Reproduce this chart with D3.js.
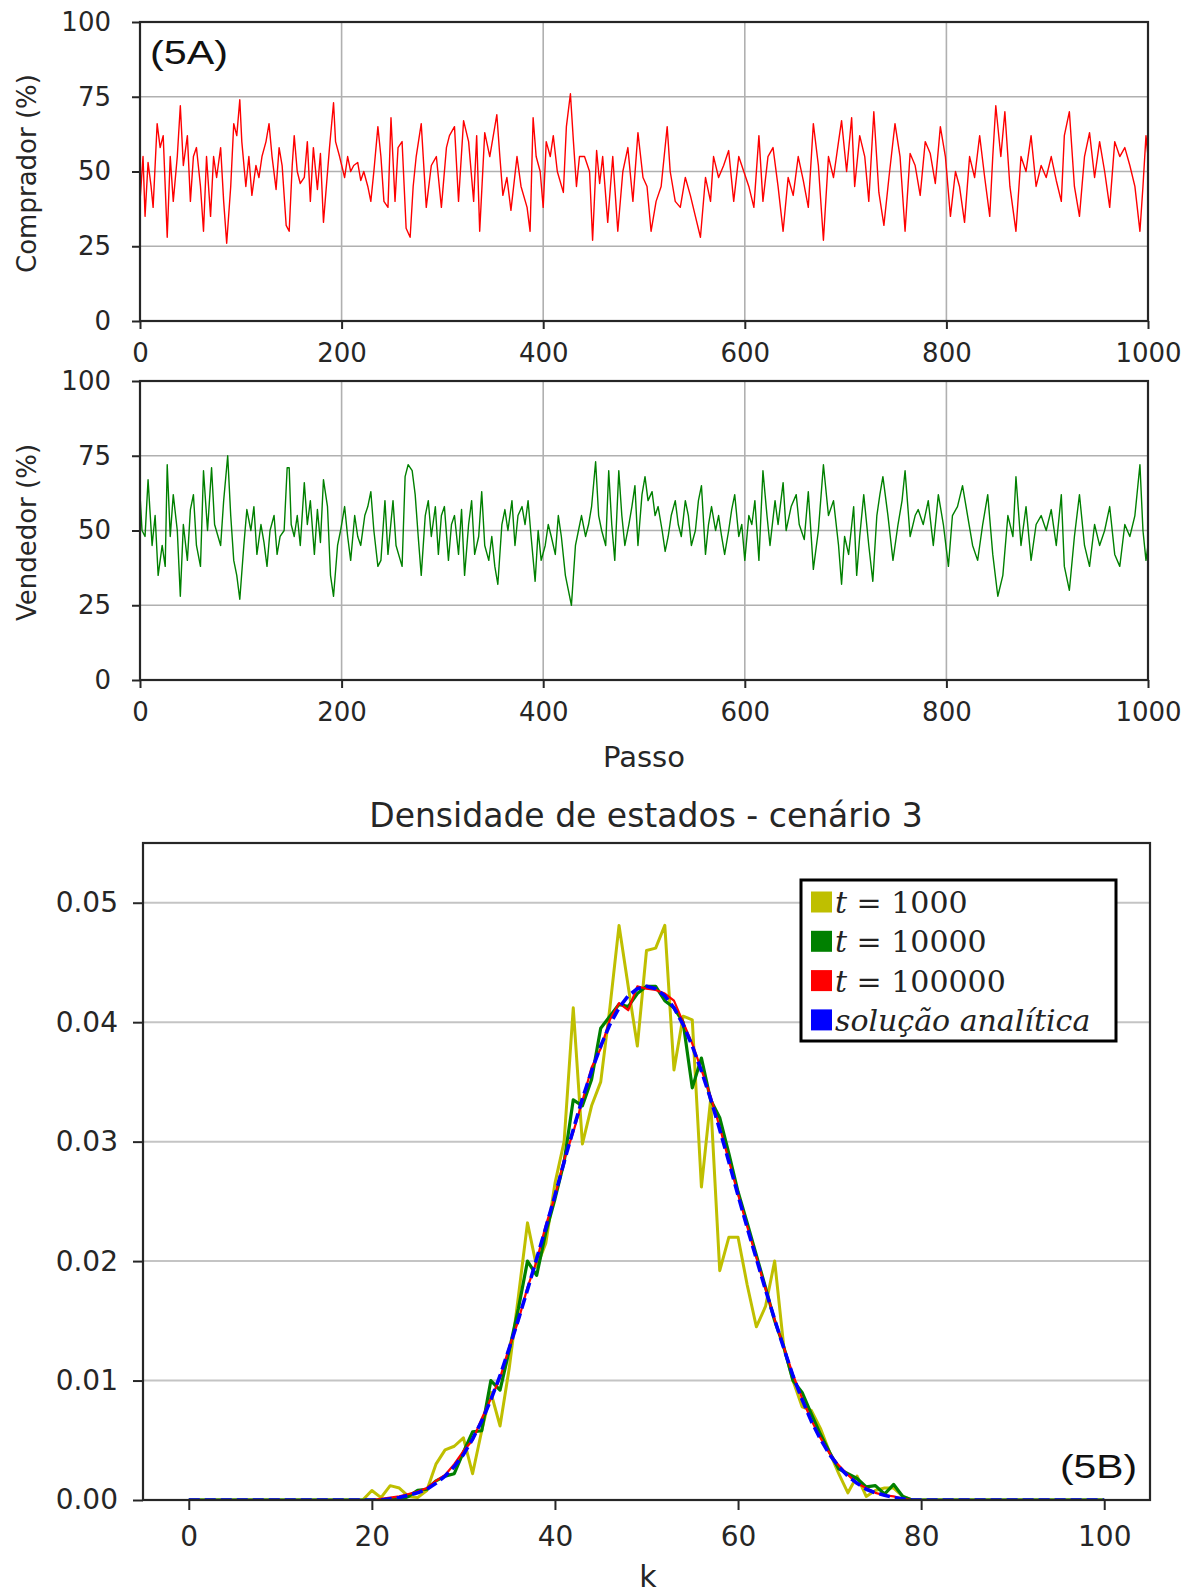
<!DOCTYPE html>
<html>
<head>
<meta charset="utf-8">
<script src="https://cdn.jsdelivr.net/npm/d3@7"></script>
<style>
  body { margin: 0; background: #fff; }
  svg { display: block; }
</style>
</head>
<body>
<svg id="chart" width="1194" height="1593"></svg>
<script>
// ---- data ----

// (5A) comprador, red
const compradorSteps = [0,3,5,8,11,13,17,20,23,27,30,33,37,40,43,47,50,53,56,60,63,66,70,73,76,80,83,86,90,93,96,99,101,105,108,111,115,118,121,125,128,131,135,138,141,145,148,151,153,156,159,163,166,169,172,176,179,182,188,192,194,198,203,206,209,212,216,219,222,226,229,232,236,239,242,246,249,253,256,260,264,268,271,274,279,284,289,294,299,304,307,312,316,321,326,331,334,337,342,347,354,357,360,364,368,374,378,384,387,390,393,397,400,403,407,410,414,420,423,427,430,433,436,441,446,449,453,456,459,464,469,474,479,484,489,494,499,503,507,512,517,523,526,531,536,541,546,551,556,561,566,569,574,579,584,589,594,599,604,609,614,618,623,628,633,638,643,648,653,658,663,668,673,678,683,688,693,696,701,706,709,714,719,723,728,733,738,743,749,754,759,764,769,774,779,784,789,794,799,804,809,813,818,823,828,833,838,843,846,849,854,858,863,869,874,879,884,889,894,899,904,909,914,917,922,927,932,937,942,947,952,957,962,967,972,977,982,987,992,995,998,1000];
const compradorPct = [40,55,35,53,45,38,66,58,62,28,55,40,55,72,52,62,40,55,58,45,30,55,35,55,48,58,40,26,45,66,62,74,60,45,55,42,52,48,55,60,66,55,44,58,52,32,30,52,62,50,46,48,60,40,58,44,56,33,58,73,60,55,48,55,50,52,53,47,50,45,40,50,65,55,40,38,68,40,58,60,31,28,45,55,66,38,52,55,38,58,62,65,40,67,60,40,62,30,63,55,69,55,42,48,37,55,45,38,30,68,55,50,38,60,55,62,50,43,65,76,60,45,55,55,50,27,57,46,55,33,55,30,50,58,40,63,48,45,30,40,45,65,50,40,38,48,42,35,28,48,40,55,48,52,57,40,55,50,45,38,62,40,55,58,45,30,48,42,55,47,38,66,52,27,55,48,60,67,50,68,45,62,55,40,70,43,32,48,66,55,30,56,52,42,60,56,46,65,55,35,50,45,33,55,48,62,48,35,55,72,55,70,45,30,55,50,62,45,52,48,55,47,40,62,70,45,35,55,63,48,60,50,38,60,55,58,52,45,30,45,62,55];

// (5A) vendedor, green
const vendedorSteps = [0,2,5,8,12,15,18,22,25,27,30,33,37,40,43,47,50,53,56,60,63,67,71,74,80,83,87,90,93,96,99,103,106,110,113,116,120,123,126,129,133,136,139,143,146,148,150,153,156,159,163,166,169,173,176,179,182,186,189,192,196,199,203,206,209,213,216,219,223,226,229,232,236,239,243,246,251,254,260,263,266,270,273,276,279,283,286,289,293,296,299,302,306,309,312,316,319,322,326,329,332,336,339,342,346,349,352,355,359,362,365,369,372,375,379,382,385,388,392,395,398,402,405,408,412,415,418,422,425,428,432,435,438,442,445,448,452,455,458,462,465,468,471,475,478,481,485,488,491,494,498,501,504,508,511,514,518,521,524,527,531,534,537,541,544,547,551,554,557,561,564,567,571,574,577,580,584,587,590,594,597,600,604,607,610,614,618,622,625,630,633,638,641,646,651,654,659,663,668,673,678,683,688,693,696,699,703,708,711,714,718,723,727,731,734,737,742,747,752,756,759,764,769,772,777,782,787,792,797,802,806,811,816,821,826,831,836,841,846,851,856,861,866,869,874,879,884,889,894,899,904,909,914,917,922,927,932,937,942,947,952,957,962,967,972,977,982,987,992,995,998,1000];
const vendedorPct = [62,50,48,67,45,55,35,45,38,72,48,62,50,28,52,40,57,62,45,38,70,50,71,52,45,60,75,55,40,35,27,45,57,50,58,42,52,46,38,50,55,42,48,50,71,71,52,48,55,45,66,52,60,42,57,46,67,58,35,28,45,50,58,48,40,55,48,45,55,58,63,50,38,40,60,42,60,45,38,68,72,70,62,48,35,55,60,48,58,42,55,58,40,52,55,42,57,35,52,60,42,48,63,45,40,48,38,32,52,57,50,60,45,55,58,52,60,48,33,50,40,45,52,48,42,55,48,35,30,25,45,50,55,48,52,58,73,55,50,45,70,52,40,70,55,45,52,58,65,45,62,68,60,63,55,58,50,43,48,55,60,52,48,60,55,45,50,60,65,42,52,58,50,55,48,42,50,57,62,48,52,40,55,52,60,40,70,55,45,60,52,66,50,58,62,52,47,63,37,50,72,55,60,45,32,48,42,58,35,48,62,45,33,55,62,68,55,40,52,60,70,48,55,57,52,60,45,62,52,38,55,58,65,55,45,40,52,62,42,28,35,55,48,68,45,58,40,52,55,50,57,45,62,38,30,48,62,45,38,52,45,50,58,42,38,52,48,55,72,50,40,45];

const stepTicks = [0, 200, 400, 600, 800, 1000];
const pctTicks = [0, 25, 50, 75, 100];

// (5B) densidade de estados, k = 0..100
const kValues = d3.range(0, 101);
const densT1000 = [0,0,0,0,0,0,0,0,0,0,0,0,0,0,0,0,0,0,0,
  0.0000,0.0008,0.0002,0.0012,0.0010,0.0003,0.0002,0.0008,0.0030,0.0042,0.0045,0.0052,0.0022,0.0058,0.0090,0.0062,0.0110,0.0170,0.0232,0.0195,0.0215,0.0265,0.0300,0.0412,0.0298,0.0330,0.0350,0.0412,0.0481,0.0430,0.0380,0.0460,0.0462,0.0481,0.0360,0.0405,0.0402,0.0262,0.0335,0.0192,0.0220,0.0220,0.0180,0.0145,0.0162,0.0200,0.0128,0.0100,0.0078,0.0075,0.0060,0.0040,0.0022,0.0006,0.0020,0.0003,0.0008,0.0010,0.0010,0.0003,0.0000,
  0,0,0,0,0,0,0,0,0,0,0,0,0,0,0,0,0,0,0,0,0];
const densT10000 = [0,0,0,0,0,0,0,0,0,0,0,0,0,0,0,0,0,0,0,0,0,0,
  0.0001,0.0000,0.0003,0.0008,0.0009,0.0016,0.0020,0.0022,0.0040,0.0057,0.0058,0.0100,0.0092,0.0125,0.0160,0.0200,0.0188,0.0224,0.0252,0.0283,0.0335,0.0330,0.0352,0.0395,0.0405,0.0415,0.0413,0.0424,0.0430,0.0430,0.0418,0.0412,0.0400,0.0345,0.0370,0.0335,0.0320,0.0290,0.0258,0.0232,0.0205,0.0178,0.0150,0.0128,0.0100,0.0090,0.0072,0.0055,0.0040,0.0026,0.0022,0.0018,0.0011,0.0012,0.0005,0.0013,0.0003,0.0000,
  0,0,0,0,0,0,0,0,0,0,0,0,0,0,0,0,0,0,0,0,0];
const densT100000 = [0,0,0,0,0,0,0,0,0,0,0,0,0,0,0,0,0,0,0,0,0,
  0.0001,0.0002,0.0003,0.0005,0.0007,0.0010,0.0016,0.0021,0.0030,0.0041,0.0050,0.0068,0.0085,0.0102,0.0128,0.0150,0.0178,0.0200,0.0230,0.0254,0.0285,0.0308,0.0334,0.0362,0.0378,0.0402,0.0416,0.0410,0.0430,0.0428,0.0427,0.0424,0.0418,0.0400,0.0382,0.0360,0.0338,0.0312,0.0284,0.0256,0.0229,0.0203,0.0177,0.0151,0.0128,0.0105,0.0085,0.0067,0.0052,0.0039,0.0029,0.0021,0.0014,0.0010,0.0006,0.0004,0.0003,0.0001,0.0000,
  0,0,0,0,0,0,0,0,0,0,0,0,0,0,0,0,0,0,0,0,0];
const densAnalitica = [0,0,0,0,0,0,0,0,0,0,0,0,0,0,0,0,0,0,0,0,0,0,
  0.0001,0.0002,0.0004,0.0006,0.0009,0.0014,0.0020,0.0028,0.0038,0.0051,0.0066,0.0084,0.0104,0.0127,0.0151,0.0176,0.0202,0.0228,0.0255,0.0283,0.0310,0.0336,0.0359,0.0380,0.0398,0.0412,0.0422,0.0428,0.0430,
  0.0428,0.0422,0.0412,0.0398,0.0380,0.0359,0.0336,0.0310,0.0283,0.0255,0.0228,0.0202,0.0176,0.0151,0.0127,0.0104,0.0084,0.0066,0.0051,0.0038,0.0028,0.0020,0.0014,0.0009,0.0006,0.0004,0.0002,0.0001,
  0,0,0,0,0,0,0,0,0,0,0,0,0,0,0,0,0,0,0,0,0,0];

const kTicks = [0, 20, 40, 60, 80, 100];
const densTicks = [0, 0.01, 0.02, 0.03, 0.04, 0.05];

const legendLabels = [['t', ' = 1000'], ['t', ' = 10000'], ['t', ' = 100000'], ['solução analítica', '']];
const legendColors = ['#bfbf00', '#008000', '#ff0000', '#0000ff'];

// ---- drawing ----
const svg = d3.select('#chart');
const sans = 'DejaVu Sans, sans-serif';
const ink = '#262626';

function styleAxis(g, size) {
  g.selectAll('.domain').remove();
  g.selectAll('.tick line').attr('stroke', ink).attr('stroke-width', 2);
  g.selectAll('.tick text').attr('fill', ink).attr('font-family', sans).attr('font-size', size);
}

// time series panel (5A)
function timePanel(top, bottom, steps, values, color, yLabel, clipId) {
  const x = d3.scaleLinear().domain([0, 1000]).range([140, 1148]);
  const y = d3.scaleLinear().domain([0, 100]).range([bottom, top]);
  const g = svg.append('g');

  g.append('g').selectAll('line').data(stepTicks).join('line')
    .attr('x1', d => x(d)).attr('x2', d => x(d))
    .attr('y1', top).attr('y2', bottom)
    .attr('stroke', '#b0b0b0').attr('stroke-width', 1.6);
  g.append('g').selectAll('line').data(pctTicks).join('line')
    .attr('x1', 140).attr('x2', 1148)
    .attr('y1', d => y(d)).attr('y2', d => y(d))
    .attr('stroke', '#b0b0b0').attr('stroke-width', 1.6);

  g.append('clipPath').attr('id', clipId).append('rect')
    .attr('x', 140).attr('y', top).attr('width', 1008).attr('height', bottom - top);

  g.append('path')
    .datum(steps.map((s, i) => [s, values[i]]))
    .attr('clip-path', `url(#${clipId})`)
    .attr('fill', 'none')
    .attr('stroke', color)
    .attr('stroke-width', 1.4)
    .attr('stroke-linejoin', 'round')
    .attr('d', d3.line().x(d => x(d[0])).y(d => y(d[1])));

  g.append('rect')
    .attr('x', 140).attr('y', top).attr('width', 1008).attr('height', bottom - top)
    .attr('fill', 'none').attr('stroke', ink).attr('stroke-width', 2.2);

  const xa = g.append('g').attr('transform', `translate(0,${bottom})`)
    .call(d3.axisBottom(x).tickValues(stepTicks).tickFormat(d3.format('d')).tickSize(8).tickPadding(15));
  styleAxis(xa, 26);
  const ya = g.append('g').attr('transform', 'translate(140,0)')
    .call(d3.axisLeft(y).tickValues(pctTicks).tickSize(8).tickPadding(21));
  styleAxis(ya, 26);

  g.append('text')
    .attr('transform', `translate(36,${(top + bottom) / 2 + 2}) rotate(-90)`)
    .attr('text-anchor', 'middle')
    .attr('font-family', sans).attr('font-size', 26).attr('fill', ink)
    .text(yLabel);
  return g;
}

const panelA = timePanel(22, 321, compradorSteps, compradorPct, '#ff0000', 'Comprador (%)', 'clipA');
const panelB = timePanel(381, 680, vendedorSteps, vendedorPct, '#008000', 'Vendedor (%)', 'clipB');

panelA.append('text')
  .attr('x', 150).attr('y', 64)
  .attr('font-family', 'Liberation Sans, Arial, sans-serif').attr('font-size', 34)
  .attr('textLength', 78).attr('lengthAdjust', 'spacingAndGlyphs')
  .attr('fill', '#111')
  .text('(5A)');

panelB.append('text')
  .attr('x', 644).attr('y', 767)
  .attr('text-anchor', 'middle')
  .attr('font-family', sans).attr('font-size', 29).attr('fill', ink)
  .text('Passo');

// density panel (5B)
const kx = d3.scaleLinear().domain([-5, 105]).range([143, 1150]);
const ky = d3.scaleLinear().domain([0, 0.055]).range([1500, 843]);
const gB = svg.append('g');

gB.append('g').selectAll('line').data(densTicks.slice(1)).join('line')
  .attr('x1', 143).attr('x2', 1150)
  .attr('y1', d => ky(d)).attr('y2', d => ky(d))
  .attr('stroke', '#c4c4c4').attr('stroke-width', 2);

gB.append('clipPath').attr('id', 'clipC').append('rect')
  .attr('x', 143).attr('y', 843).attr('width', 1007).attr('height', 657);

const densLine = d3.line().x((d, i) => kx(kValues[i])).y(d => ky(d));
const densSeries = [
  { values: densT1000, color: legendColors[0], width: 3, dash: null },
  { values: densT10000, color: legendColors[1], width: 3.2, dash: null },
  { values: densT100000, color: legendColors[2], width: 2.2, dash: null },
  { values: densAnalitica, color: legendColors[3], width: 3.6, dash: '11,5' }
];
gB.append('g').attr('clip-path', 'url(#clipC)')
  .selectAll('path').data(densSeries).join('path')
  .attr('fill', 'none')
  .attr('stroke', d => d.color)
  .attr('stroke-width', d => d.width)
  .attr('stroke-dasharray', d => d.dash)
  .attr('stroke-linejoin', 'round')
  .attr('d', d => densLine(d.values));

gB.append('rect')
  .attr('x', 143).attr('y', 843).attr('width', 1007).attr('height', 657)
  .attr('fill', 'none').attr('stroke', ink).attr('stroke-width', 2.2);

const kxa = gB.append('g').attr('transform', 'translate(0,1500)')
  .call(d3.axisBottom(kx).tickValues(kTicks).tickSize(10).tickPadding(16));
styleAxis(kxa, 28);
const kya = gB.append('g').attr('transform', 'translate(143,0)')
  .call(d3.axisLeft(ky).tickValues(densTicks).tickFormat(d3.format('.2f')).tickSize(10).tickPadding(15));
styleAxis(kya, 28);

gB.append('text')
  .attr('x', 646).attr('y', 827)
  .attr('text-anchor', 'middle')
  .attr('font-family', sans).attr('font-size', 33).attr('fill', ink)
  .text('Densidade de estados - cenário 3');

gB.append('text')
  .attr('x', 648).attr('y', 1587)
  .attr('text-anchor', 'middle')
  .attr('font-family', sans).attr('font-size', 30).attr('fill', ink)
  .text('k');

gB.append('text')
  .attr('x', 1060).attr('y', 1478)
  .attr('font-family', 'Liberation Sans, Arial, sans-serif').attr('font-size', 34)
  .attr('textLength', 77).attr('lengthAdjust', 'spacingAndGlyphs')
  .attr('fill', '#111')
  .text('(5B)');

// legend
const legend = gB.append('g');
legend.append('rect')
  .attr('x', 801).attr('y', 880).attr('width', 315).attr('height', 161)
  .attr('fill', '#fff').attr('stroke', '#000').attr('stroke-width', 3);
const rows = legend.selectAll('g.row').data(legendLabels).join('g')
  .attr('class', 'row')
  .attr('transform', (d, i) => `translate(811,${902 + i * 39.3})`);
rows.append('rect')
  .attr('x', 0).attr('y', -10.5).attr('width', 21).attr('height', 21)
  .attr('fill', (d, i) => legendColors[i]);
const rowText = rows.append('text')
  .attr('x', 24).attr('y', 11)
  .attr('font-family', 'DejaVu Serif, serif').attr('font-size', 30).attr('fill', '#222');
rowText.append('tspan').attr('font-style', 'italic').text(d => d[0]);
rowText.append('tspan').text(d => d[1]);
</script>
</body>
</html>
